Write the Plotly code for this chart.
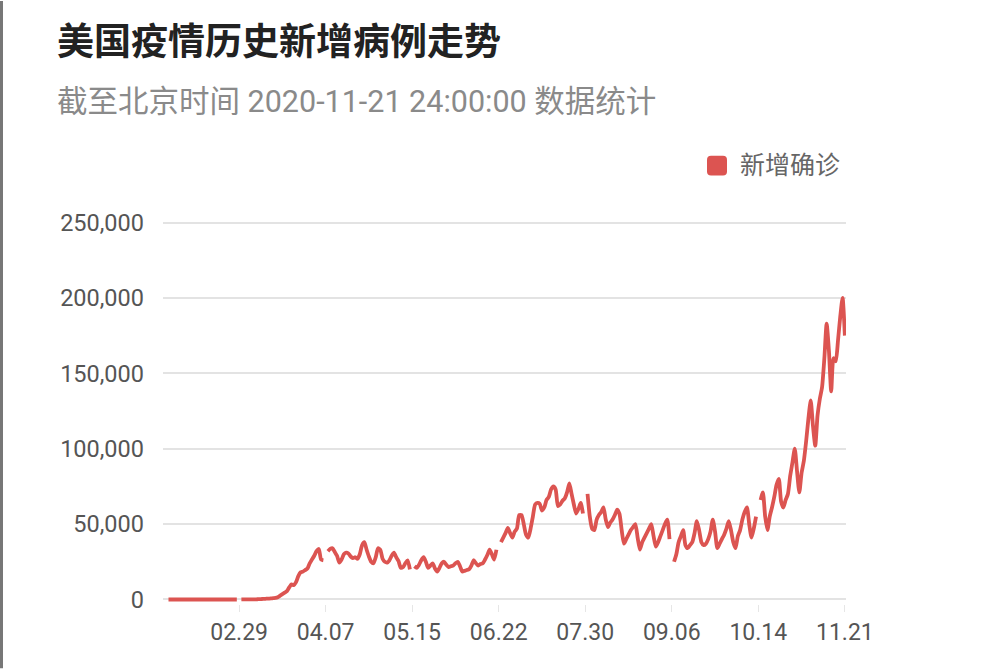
import pandas as pd
import plotly.graph_objects as go

# ---- data (daily new confirmed cases) ----
start_date = "2020-01-29"
end_date = "2020-11-21"

jan = [0, 0, 0]
feb = [0, 0, 0, 0, 0, 0, 0, 0, 0, 0, 0, 0, 0, 0, 0, 0, 0, 0, 0, 0,
       0, 0, 0, 0, 0, 0, 0, 0, None]
mar = [10, 20, 30, 40, 60, 80, 100, 150, 200, 300, 400, 500, 600, 700, 900,
       1000, 1500, 2500, 3500, 4500, 5500, 8000, 10000, 9500, 11500, 15500,
       18000, 18500, 19500, 20500, 24000]
apr = [26500, 29000, 32000, 33500, 26500, 26000, None, 32000, 33500, 34000,
       31500, 29000, 24500, 26500, 30000, 31000, 30500, 28500, 27500, 28000,
       27000, 30000, 36000, 38000, 33000, 28500, 25000, 24000, 28000, 34000]
may = [33000, 27000, 25000, 24500, 26000, 29000, 31000, 28000, 25500, 21000,
       21500, 24000, 26000, 20000, None, 22000, 21000, 23000, 26000, 28000,
       25000, 21000, 22500, 24000, 20500, 18500, 21000, 24000, 25000, 23000,
       21500]
jun = [22000, 22500, 24000, 25000, 22000, 18500, 19000, 19500, 20000, 22500,
       26000, 24000, 22500, 23500, 24000, 26500, 29500, 33000, 30000, 26500,
       33000, None, 38000, 41000, 44000, 47500, 44000, 41000, 45000, 47000]
jul = [56000, 56000, 50000, 43000, 41000, 47000, 55000, 63000, 64000, 63500,
       59000, 61000, 66000, 68000, 73000, 75000, 73000, 62000, 63000, 65500,
       67000, 71000, 77000, 70000, 63000, 57000, 60000, 64000, 57000, None,
       70000]
aug = [55000, 47000, 46000, 53000, 56000, 58000, 61000, 53000, 48000, 51000,
       53000, 56000, 59500, 57000, 46000, 37000, 40000, 43000, 46000, 48000,
       50000, 41000, 33000, 38000, 41000, 44000, 47000, 50000, 42000, 35000,
       38000]
sep = [42000, 46000, 50000, 53000, 40000, None, 25000, 30000, 38000, 42000,
       46000, 36000, 34000, 36000, 38000, 44000, 52000, 46000, 38000, 36000,
       37000, 40000, 45000, 53000, 45000, 34000, 37000, 40000, 43000, 47000]
oct_ = [52000, 46000, 38000, 34000, 42000, 46000, 53000, 58000, 61000, 50000,
        41000, 47000, 55000, None, 66000, 71000, 55000, 46000, 55000, 61000,
        68000, 76000, 80000, 65000, 61000, 66000, 70000, 82000, 91000, 100000,
        85000]
nov = [71000, 84000, 92000, 105000, 120000, 132000, 115000, 102000, 122000,
       133000, 141000, 160000, 183000, 165000, 138000, 160000, 158000, 172000,
       188000, 200000, 175000]

tick_dates = ["2020-02-29", "2020-04-07", "2020-05-15", "2020-06-22",
              "2020-07-30", "2020-09-06", "2020-10-14", "2020-11-21"]
tick_labels = ["02.29", "04.07", "05.15", "06.22", "07.30", "09.06", "10.14", "11.21"]
y_ticks = [0, 50000, 100000, 150000, 200000, 250000]
series_name = "新增确诊"
title_text = "美国疫情历史新增病例走势"
subtitle_text = "截至北京时间 2020-11-21 24:00:00 数据统计"

values = jan + feb + mar + apr + may + jun + jul + aug + sep + oct_ + nov
dates = pd.date_range(start_date, end_date, freq="D")
assert len(values) == len(dates)

# ---- layout geometry (pixels) ----
W, H = 1000, 669
L, R = 163, 154
T, B = 217.5, 64.5
PW, PH = W - L - R, H - T - B


def px_x(px):
    return (px - L) / PW


def px_y(py):
    return (H - B - py) / PH


RED = "#dc5451"
CJK = "Roboto, 'Noto Sans CJK SC', sans-serif"

fig = go.Figure()
fig.add_trace(go.Scatter(
    x=dates, y=values, mode="lines", name=series_name,
    line=dict(color=RED, width=3.8, shape="spline", smoothing=0.6),
    connectgaps=False, showlegend=False, hoverinfo="x+y",
))

# legend swatch: rounded square
sx0, sx1, sy0, sy1, rr = 707, 727, 155, 175, 4
swatch_path = (
    f"M {px_x(sx0 + rr)},{px_y(sy0)} L {px_x(sx1 - rr)},{px_y(sy0)} "
    f"Q {px_x(sx1)},{px_y(sy0)} {px_x(sx1)},{px_y(sy0 + rr)} "
    f"L {px_x(sx1)},{px_y(sy1 - rr)} "
    f"Q {px_x(sx1)},{px_y(sy1)} {px_x(sx1 - rr)},{px_y(sy1)} "
    f"L {px_x(sx0 + rr)},{px_y(sy1)} "
    f"Q {px_x(sx0)},{px_y(sy1)} {px_x(sx0)},{px_y(sy1 - rr)} "
    f"L {px_x(sx0)},{px_y(sy0 + rr)} "
    f"Q {px_x(sx0)},{px_y(sy0)} {px_x(sx0 + rr)},{px_y(sy0)} Z"
)

fig.update_layout(
    width=W, height=H,
    margin=dict(l=L, r=R, t=T, b=B, autoexpand=False),
    paper_bgcolor="white", plot_bgcolor="white",
    font=dict(family=CJK, color="#555"),
    showlegend=False,
    xaxis=dict(
        type="date",
        range=["2020-01-26 14:00", "2020-11-21 12:00"],
        tickmode="array", tickvals=tick_dates, ticktext=tick_labels,
        tickfont=dict(size=23, color="#555", family=CJK),
        showgrid=False, zeroline=False, showline=False,
        ticks="outside", ticklen=7, tickcolor="#e6e6e6", tickwidth=1,
        fixedrange=True,
    ),
    yaxis=dict(
        range=[-3000, 253000],
        tickmode="array", tickvals=y_ticks,
        tickformat=",d",
        tickfont=dict(size=23.5, color="#555", family=CJK),
        showgrid=True, gridcolor="#e3e3e3", gridwidth=1.5,
        zeroline=False, showline=False, ticks="", ticklabelstandoff=18,
        fixedrange=True,
    ),
    annotations=[
        dict(text="<b>" + title_text + "</b>", xref="paper", yref="paper",
             x=px_x(55), y=px_y(38), xanchor="left", yanchor="middle",
             showarrow=False, font=dict(size=37, color="#222",
                                        family="'Noto Sans CJK SC', sans-serif")),
        dict(text=subtitle_text, xref="paper", yref="paper",
             x=px_x(55), y=px_y(101), xanchor="left", yanchor="middle",
             showarrow=False, font=dict(size=30.5, color="#8a8a8a", family=CJK)),
        dict(text=series_name, xref="paper", yref="paper",
             x=px_x(738), y=px_y(165), xanchor="left", yanchor="middle",
             showarrow=False, font=dict(size=25, color="#666", family=CJK)),
    ],
    shapes=[
        dict(type="line", xref="paper", yref="paper",
             x0=px_x(1.5), x1=px_x(1.5), y0=px_y(0), y1=px_y(H),
             line=dict(color="#777", width=3)),
        dict(type="path", xref="paper", yref="paper", path=swatch_path,
             fillcolor=RED, line=dict(width=0)),
    ],
)

fig.write_html("out.html", config={"displayModeBar": False},
               post_script="document.body.style.margin='0';")
